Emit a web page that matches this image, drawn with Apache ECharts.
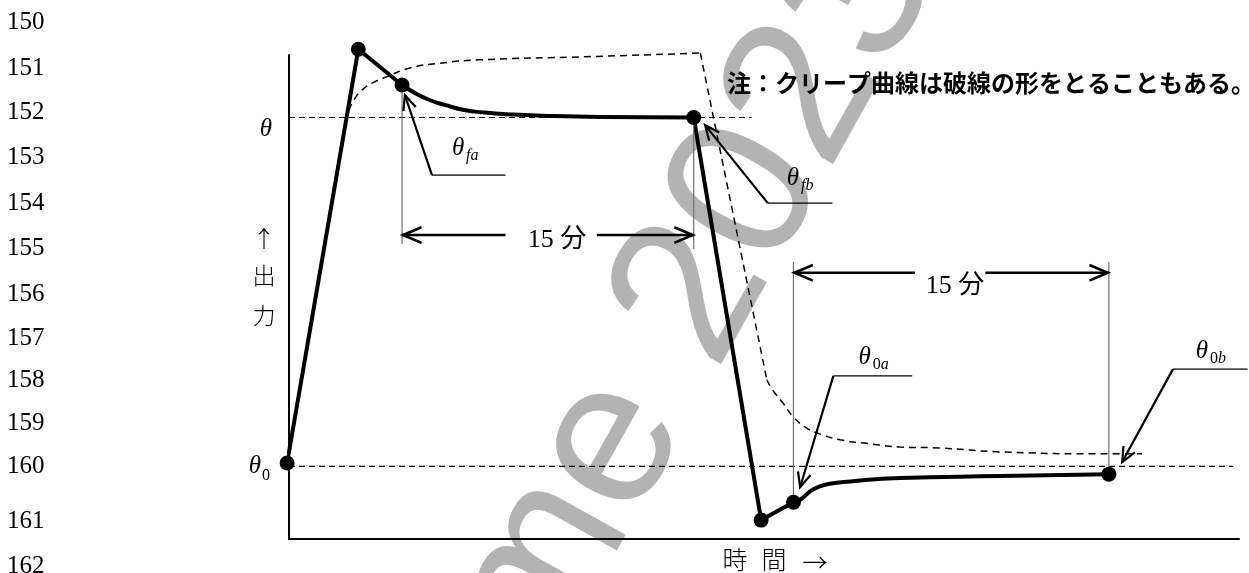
<!DOCTYPE html>
<html>
<head>
<meta charset="utf-8">
<script src="https://cdn.jsdelivr.net/npm/echarts@6/dist/echarts.min.js"></script>
<style>
  html, body { margin: 0; padding: 0; background: #fff; }
  #chart { width: 1249px; height: 573px; }
</style>
</head>
<body>
<div id="chart"></div>
<script>
// ---- Output vs. time (arbitrary units, both axes 0..100) ----

// measured points (solid dots)
const dotTime   = [-0.2, 7.3, 11.9, 42.6, 49.7, 53.1, 86.3];
const dotOutput = [15.7, 101.2, 93.8, 87.1, 3.9, 7.6, 13.4];

// settling curve while energised (dot 2 -> dot 3)
const hotTime   = [11.9, 13.3, 14.8, 16.4, 18.3, 20.6, 23.6, 27.5, 32.7, 42.6];
const hotOutput = [93.8, 92.1, 90.7, 89.7, 88.7, 88.1, 87.7, 87.4, 87.2, 87.1];

// recovery curve after switch-off (dot 5 -> dot 6)
const coolTime   = [53.1, 53.8, 55.2, 56.9, 59.1, 64.3, 74.8, 86.3];
const coolOutput = [7.6, 8.1, 10.3, 11.4, 11.9, 12.6, 13.0, 13.4];

// creep curve (dashed): rise, drop, decay
const creepRiseTime   = [6.3, 6.95, 7.7, 8.75, 10.3, 12.7, 15.9, 20.1, 30.6, 43.3];
const creepRiseOutput = [88.6, 91.1, 92.8, 94.2, 95.5, 97.3, 98.3, 99.0, 99.6, 100.4];
const creepDropTime   = [43.3, 50.3];
const creepDropOutput = [100.4, 32.9];
const creepFallTime   = [50.3, 50.9, 52.0, 53.1, 54.5, 55.6, 58.0, 61.5, 64.3, 68.5, 74.8, 86.3, 89.8];
const creepFallOutput = [32.9, 30.8, 28.1, 25.2, 22.9, 21.9, 20.5, 19.6, 19.0, 18.8, 18.0, 17.6, 17.6];

// reference levels θ and θ0
const refLevel = [87.1, 15.0];
const refEnd   = [48.7, 99.4];

// 15-minute spans between dots
const spanFromDot     = [2, 5];
const spanToDot       = [3, 6];
const spanArrowOutput = [62.8, 55.0];
const spanGapFrom     = [22.8, 65.9];
const spanGapTo       = [32.4, 73.3];
const spanLabelTime   = [28.2, 70.1];
const spanLabelOutput = [61.8, 52.3];
const spanLabel       = ['15 分', '15 分'];

// leader callouts θfa, θfb, θ0a, θ0b
const leaderTipTime      = [12.2, 43.8, 53.8, 87.7];
const leaderTipOutput    = [91.7, 85.5, 10.7, 15.9];
const leaderElbowTime    = [15.05, 50.4, 57.3, 93.05];
const leaderElbowOutput  = [75.2, 69.4, 33.7, 35.1];
const leaderEndTime      = [22.8, 57.2, 65.6, 100.9];
const leaderLabelTime    = [17.8, 53.05, 60.6, 96.1];
const leaderLabelOutput  = [80.8, 74.6, 37.6, 38.8];
const leaderSub          = ['{i|fa}', '{i|fb}', '{u|0}{i|a}', '{u|0}{i|b}'];

// document line numbers down the left margin
const lineNumbers = ['150','151','152','153','154','155','156','157','158','159','160','161','162'];

// texts
const noteText   = '注：クリープ曲線は破線の形をとることもある。';
const yTitle     = ['↑', '出', '力'];
const xTitle     = ['時', '間', '→'];
const stampText  = 'me 2023';

// ---- layout ----
const lineNumberY = [22, 68, 112, 157, 203, 248, 294, 338, 380, 423, 466, 521, 566];
const yTitleY = [238, 278, 318];
const xTitleX = [735, 774, 815];
const SERIF = "'Liberation Serif', 'Noto Sans CJK JP', serif";
const CJK = "'Noto Sans CJK JP', sans-serif";

const zip = (a, b) => a.map((v, i) => [v, b[i]]);
const pick = idx => idx.map(i => [dotTime[i], dotOutput[i]]);

function chevron(tip, from, len, ang) {
  const dx = tip[0] - from[0], dy = tip[1] - from[1];
  const L = Math.hypot(dx, dy) || 1;
  const ux = dx / L, uy = dy / L;
  const c = Math.cos(ang), s = Math.sin(ang);
  return [
    [tip[0] - len * (ux * c - uy * s), tip[1] - len * (uy * c + ux * s)],
    [tip[0], tip[1]],
    [tip[0] - len * (ux * c + uy * s), tip[1] - len * (uy * c - ux * s)]
  ];
}

function textStyle(t, size, family, extra) {
  return Object.assign({
    text: t, fontSize: size, fontFamily: family, fill: '#000',
    align: 'center', verticalAlign: 'middle', textAlign: 'center', textVerticalAlign: 'middle'
  }, extra || {});
}

function renderSpan(params, api) {
  const i = params.dataIndex;
  const f = spanFromDot[i], t = spanToDot[i];
  const p0 = api.coord([dotTime[f], dotOutput[f]]);
  const p1 = api.coord([dotTime[t], dotOutput[t]]);
  const ay = api.coord([0, spanArrowOutput[i]])[1];
  const gx0 = api.coord([spanGapFrom[i], 0])[0];
  const gx1 = api.coord([spanGapTo[i], 0])[0];
  const lp = api.coord([spanLabelTime[i], spanLabelOutput[i]]);
  const over0 = ay > p0[1] ? 9 : -11;
  const over1 = ay > p1[1] ? 14 : -11;
  const thin = { stroke: '#707070', lineWidth: 1.2 };
  const bold = { stroke: '#000', lineWidth: 2.6, fill: null };
  return {
    type: 'group',
    children: [
      { type: 'line', shape: { x1: p0[0], y1: p0[1], x2: p0[0], y2: ay + over0 }, style: thin },
      { type: 'line', shape: { x1: p1[0], y1: p1[1], x2: p1[0], y2: ay + over1 }, style: thin },
      { type: 'line', shape: { x1: p0[0], y1: ay, x2: gx0, y2: ay }, style: bold },
      { type: 'line', shape: { x1: gx1, y1: ay, x2: p1[0], y2: ay }, style: bold },
      { type: 'polyline', shape: { points: chevron([p0[0] + 1, ay], [gx0, ay], 20, 0.4) }, style: bold },
      { type: 'polyline', shape: { points: chevron([p1[0] - 1, ay], [gx1, ay], 20, 0.4) }, style: bold },
      { type: 'text', x: lp[0], y: lp[1], style: textStyle(spanLabel[i], 26, SERIF) }
    ]
  };
}

function renderLeader(params, api) {
  const i = params.dataIndex;
  const tip = api.coord([leaderTipTime[i], leaderTipOutput[i]]);
  const elbow = api.coord([leaderElbowTime[i], leaderElbowOutput[i]]);
  const end = api.coord([leaderEndTime[i], leaderElbowOutput[i]]);
  const lab = api.coord([leaderLabelTime[i], leaderLabelOutput[i]]);
  return {
    type: 'group',
    children: [
      { type: 'line', shape: { x1: elbow[0], y1: elbow[1], x2: end[0], y2: end[1] }, style: { stroke: '#000', lineWidth: 1.2 } },
      { type: 'line', shape: { x1: elbow[0], y1: elbow[1], x2: tip[0], y2: tip[1] }, style: { stroke: '#000', lineWidth: 2.2 } },
      { type: 'polyline', shape: { points: chevron(tip, elbow, 16, 0.42) }, style: { stroke: '#000', lineWidth: 2.2, fill: null } },
      { type: 'text', x: lab[0], y: lab[1], style: textStyle('θ', 25, SERIF, { fontStyle: 'italic' }) },
      { type: 'text', x: lab[0] + 8, y: lab[1] + 8, style: textStyle(leaderSub[i], 16, SERIF, {
          align: 'left', textAlign: 'left',
          rich: {
            i: { fontStyle: 'italic', fontSize: 16, fontFamily: SERIF, fill: '#000' },
            u: { fontStyle: 'normal', fontSize: 16, fontFamily: SERIF, fill: '#000' }
          }
        }) }
    ]
  };
}

const chart = echarts.init(document.getElementById('chart'), null, { renderer: 'canvas' });

const solidStyle = { color: '#000', width: 4 };
const dashStyle = { color: '#000', width: 1.5, type: [7, 5] };
const refStyle = { color: '#000', width: 1.1, type: [6, 4] };

const lineSeries = (data, style, smooth) => ({
  type: 'line', data, smooth: smooth || false, showSymbol: false, symbol: 'none',
  lineStyle: style, clip: false, silent: true, z: 3
});

const graphics = [];
// watermark stamp, laid diagonally under the drawing
graphics.push({
  type: 'text', x: 499, y: 645, rotation: 60.8 * Math.PI / 180, z: -10,
  style: { text: stampText, fontSize: 206, fontFamily: "'Liberation Sans', sans-serif", fill: '#b3b3b3',
           align: 'left', textAlign: 'left', verticalAlign: 'middle', textVerticalAlign: 'middle' }
});
lineNumbers.forEach((t, i) => graphics.push({
  type: 'text', x: 7, y: lineNumberY[i],
  style: textStyle(t, 25, SERIF, { align: 'left', textAlign: 'left' })
}));
yTitle.forEach((t, i) => graphics.push({
  type: 'text', x: 264, y: yTitleY[i], style: textStyle(t, 23, i === 0 ? CJK : SERIF, { fontWeight: 300 })
}));
xTitle.forEach((t, i) => graphics.push({
  type: 'text', x: xTitleX[i], y: 562, style: textStyle(t, 25, i === 2 ? CJK : SERIF, { fontWeight: 300 })
}));
graphics.push({
  type: 'text', x: 727, y: 83,
  style: textStyle(noteText, 24, CJK, { align: 'left', textAlign: 'left', fontWeight: 'bold' })
});

const option = {
  animation: false,
  backgroundColor: '#fff',
  grid: { left: 289, top: 55, width: 950, height: 484, containLabel: false },
  xAxis: {
    type: 'value', min: 0, max: 100,
    axisLine: { show: true, onZero: false, lineStyle: { color: '#000', width: 2 } },
    axisTick: { show: false }, axisLabel: { show: false }, splitLine: { show: false }
  },
  yAxis: {
    type: 'value', min: 0, max: 100,
    axisLine: { show: true, onZero: false, lineStyle: { color: '#000', width: 2 } },
    axisTick: { show: false }, axisLabel: { show: false }, splitLine: { show: false }
  },
  graphic: graphics,
  series: [
    lineSeries([[0, refLevel[0]], [refEnd[0], refLevel[0]]], refStyle),
    lineSeries([[0, refLevel[1]], [refEnd[1], refLevel[1]]], refStyle),
    lineSeries(zip(creepRiseTime, creepRiseOutput), dashStyle, 0.5),
    lineSeries(zip(creepDropTime, creepDropOutput), dashStyle),
    lineSeries(zip(creepFallTime, creepFallOutput), dashStyle, 0.5),
    lineSeries(pick([0, 1, 2]), solidStyle),
    lineSeries(zip(hotTime, hotOutput), solidStyle, 0.5),
    lineSeries(pick([3, 4, 5]), solidStyle),
    lineSeries(zip(coolTime, coolOutput), solidStyle, 0.5),
    {
      type: 'scatter', data: zip(dotTime, dotOutput), symbol: 'circle', symbolSize: 15,
      itemStyle: { color: '#000', opacity: 1 }, clip: false, silent: true, z: 5
    },
    {
      type: 'custom', coordinateSystem: 'cartesian2d', renderItem: renderSpan,
      data: spanFromDot.map((d, i) => [i]), clip: false, silent: true, z: 4
    },
    {
      type: 'custom', coordinateSystem: 'cartesian2d', renderItem: renderLeader,
      data: leaderTipTime.map((d, i) => [i]), clip: false, silent: true, z: 4
    },
    // axis-side labels θ and θ0 tied to the reference levels
    {
      type: 'custom', coordinateSystem: 'cartesian2d', clip: false, silent: true, z: 4,
      data: refLevel.map((v, i) => [i]),
      renderItem: (params, api) => {
        const i = params.dataIndex;
        const p = api.coord([0, refLevel[i]]);
        if (i === 0) {
          return { type: 'text', x: p[0] - 23, y: p[1] + 12, style: textStyle('θ', 25, SERIF, { fontStyle: 'italic' }) };
        }
        return { type: 'group', children: [
          { type: 'text', x: p[0] - 34, y: p[1], style: textStyle('θ', 25, SERIF, { fontStyle: 'italic' }) },
          { type: 'text', x: p[0] - 27, y: p[1] + 9, style: textStyle('0', 16, SERIF, { align: 'left', textAlign: 'left' }) }
        ] };
      }
    }
  ]
};

chart.setOption(option);
</script>
</body>
</html>
